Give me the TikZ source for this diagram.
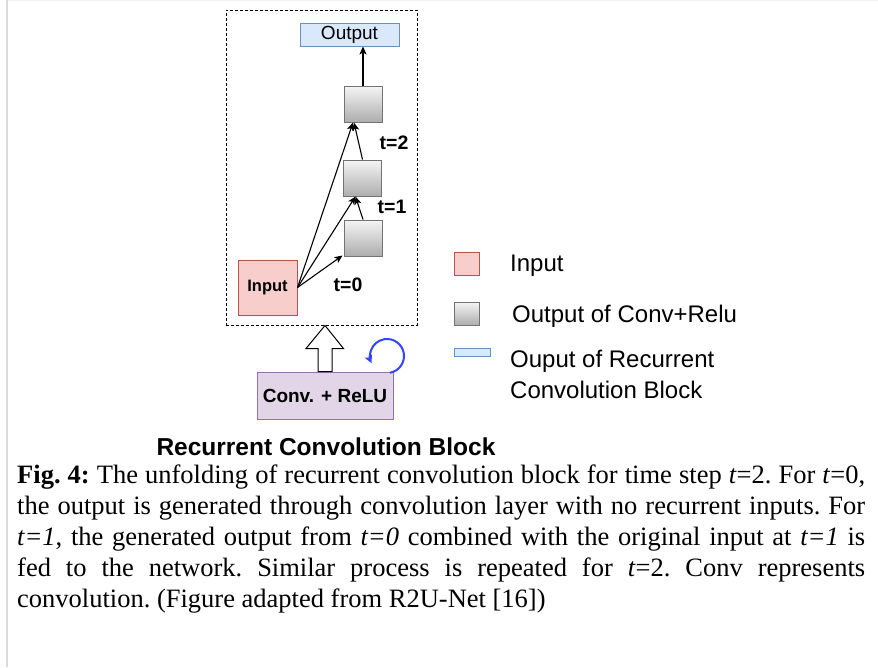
\documentclass[tikz,border=0pt]{standalone}
\usepackage{fontspec}
\setmainfont{Liberation Serif}
\setsansfont{Liberation Sans}
\usetikzlibrary{arrows.meta}
\definecolor{inpfill}{HTML}{F8CECC}
\definecolor{inpdraw}{HTML}{B85450}
\definecolor{outfill}{HTML}{DAE8FC}
\definecolor{outdraw}{HTML}{6C8EBF}
\definecolor{convfill}{HTML}{E1D5E7}
\definecolor{convdraw}{HTML}{9673A6}
\definecolor{loopblue}{HTML}{3344FF}
\newcommand{\fsz}[1]{\fontsize{#1}{#1}\selectfont}
\tikzset{
  graybox/.style={draw=black!55, line width=1pt, top color=black!4, bottom color=black!32, minimum width=38, minimum height=36, inner sep=0},
  inpbox/.style={draw=inpdraw, fill=inpfill, line width=1pt, inner sep=0},
  outbox/.style={draw=outdraw, fill=outfill, line width=1pt, inner sep=0},
  convbox/.style={draw=convdraw, fill=convfill, line width=1pt, inner sep=0},
  arr/.style={line width=1.1pt, -{Stealth[length=8pt,width=7pt,inset=2pt]}},
  tlab/.style={font=\sffamily\bfseries\fsz{19.5}, inner sep=0},
  lgtext/.style={font=\sffamily\fsz{24}, inner sep=0, anchor=base west},
}
\begin{document}
\begin{tikzpicture}[x=1pt,y=-1pt]
\useasboundingbox (0,0) rectangle (878,667);
\fill[white] (0,0) rectangle (878,667);
\draw[black!14, line width=2pt] (7,0) -- (7,667);
\draw[black!6, line width=1pt] (8,0.5) -- (878,0.5);

% dashed block
\node[draw, dashed, dash pattern=on 3pt off 2pt, line width=1pt, minimum width=191, minimum height=315, inner sep=0] (blk) at (321.5,167.5) {};

% nodes
\node[outbox, minimum width=99, minimum height=23, font=\sffamily\fsz{19}] (out) at (349.5,34.5) {Output};
\node[graybox] (c3) at (363,104) {};
\node[graybox] (c2) at (362.5,178) {};
\node[graybox] (c1) at (363,238) {};
\node[inpbox, minimum width=59, minimum height=55, font=\sffamily\bfseries\fsz{16.5}] (inp) at (267.5,287.5) {\raisebox{-3pt}{Input}};
\node[convbox, minimum width=136, minimum height=47, font=\sffamily\bfseries\fsz{19}] (conv) at (325,395.5) {Conv. + ReLU};

% labels
\node[tlab] (t2) at (394,142.5) {t=2};
\node[tlab] (t1) at (392,206.5) {t=1};
\node[tlab] (t0) at (348,284.5) {t=0};

% connectors
\draw[arr] (c3.north) -- (c3.north |- out.south);
\draw[arr] (c2.north) -- ([xshift=-9pt]c3.south);
\draw[arr] (inp.east) -- ([xshift=-10pt]c3.south);
\draw[arr] (c1.north) -- ([xshift=-7pt]c2.south);
\draw[arr] (inp.east) -- ([xshift=-7pt]c2.south);
\draw[arr] (inp.east) -- ([xshift=-1pt,yshift=1pt]c1.south west);

% hollow up arrow from conv to block
\coordinate (tip) at (conv.north |- blk.south);
\draw[fill=white, line width=1pt, line join=miter]
  (tip) -- ++(18.5,23) -- ++(-11.5,0) -- (conv.north -| 332,0) -- (conv.north -| 318,0) -- ++(0,-23) -- ++(-12,0) -- cycle;

% loop
\coordinate (lc) at (387,356);
\draw[loopblue, line width=2pt, -{Stealth[length=8pt,width=8pt,inset=2pt]}]
  ([shift={(80:17)}]lc) arc (80:-205:17);

% legend
\node[inpbox, minimum width=25, minimum height=23] (lg1) at (466.5,263.5) {};
\node[graybox, minimum width=25, minimum height=23] (lg2) at (466.5,313.5) {};
\node[outbox, minimum width=36, minimum height=8] (lg3) at (472.5,352.5) {};
\node[lgtext] (lt1) at (510,271) {Input};
\node[lgtext] (lt2) at (512,322) {Output of Conv+Relu};
\node[font=\sffamily\fsz{24}, inner sep=0, anchor=west, align=left] (lt3) at (510,374) {Ouput of Recurrent\\[7pt]Convolution Block};

% title and caption
\node[font=\sffamily\bfseries\fsz{24.5}, inner sep=0, anchor=base] (title) at (326,455) {Recurrent Convolution Block};
\node[anchor=north west, inner sep=0, text width=848, align=justify] (cap) at (17,465)
{\fontsize{26.5}{31}\selectfont\frenchspacing
\textbf{Fig. 4:} The unfolding of recurrent convolution block for time step \textit{t}=2. For \textit{t}=0,\linebreak
the output is generated through convolution layer with no recurrent inputs. For\linebreak
\textit{t=1}, the generated output from \textit{t=0} combined with the original input at \textit{t=1} is\linebreak
fed to the network. Similar process is repeated for \textit{t}=2. Conv represents\linebreak
convolution. (Figure adapted from R2U-Net [16])\par};
\end{tikzpicture}
\end{document}
